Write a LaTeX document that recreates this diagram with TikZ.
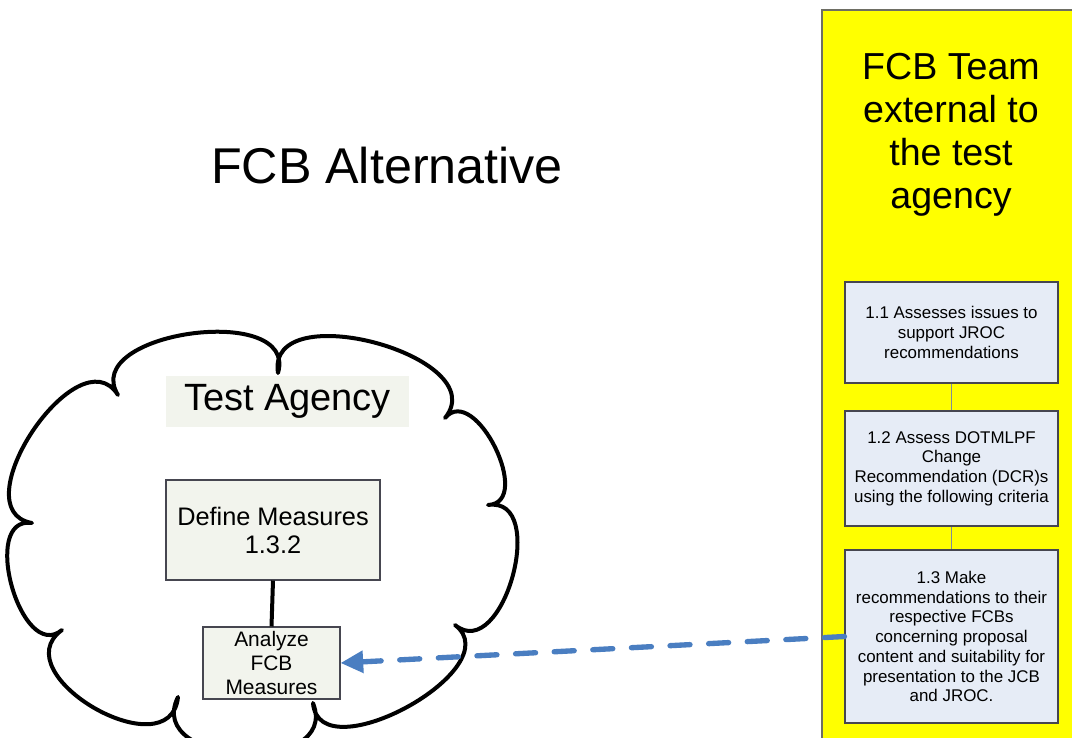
\documentclass[tikz,border=0pt]{standalone}
\usepackage{fontspec}
\setmainfont{Liberation Sans}
\usetikzlibrary{calc,arrows.meta}
\definecolor{panelyellow}{RGB}{255,255,0}
\definecolor{panelborder}{RGB}{110,110,100}
\definecolor{boxfill}{RGB}{230,236,246}
\definecolor{boxborder}{RGB}{70,70,80}
\definecolor{linkgray}{RGB}{128,140,155}
\definecolor{lightfill}{RGB}{242,244,237}
\definecolor{arrowblue}{RGB}{74,126,193}
\def\px{0.75pt}
\begin{document}
\begin{tikzpicture}[x=0.75pt,y=-0.75pt,
  rbox/.style={draw=boxborder, line width=0.8pt, fill=boxfill, align=center, inner sep=0pt,
    minimum width=213*\px, font=\fontsize{12.7}{14.8}\selectfont},
  lbox/.style={draw=boxborder, line width=0.8pt, fill=lightfill, align=center, inner sep=0pt},
  cloudline/.style={draw=black, line width=3pt, line join=round},
  link/.style={draw=linkgray, line width=0.8pt},
  flow/.style={draw=arrowblue, line width=4pt, line cap=round, dash pattern=on 15pt off 14pt,
    -{Triangle[length=17pt,width=16pt,line cap=butt]}}
]
\useasboundingbox (0,0) rectangle (1072,738);
\clip (0,0) rectangle (1072,738);
\fill[white] (0,0) rectangle (1072,738);

% title
\node[font=\fontsize{37.7}{43}\selectfont, anchor=base, inner sep=0pt] (title) at (387,184) {FCB Alternative};

% yellow panel
\path[fill=panelyellow, draw=panelborder, line width=1.2pt] (822,10) rectangle (1085,750);
\node[font=\fontsize{28.2}{32.3}\selectfont, align=center, anchor=north, inner sep=0pt] (head) at (951,53)
  {FCB Team\\external to\\the test\\agency};

\node[rbox, minimum height=101*\px] (b1) at (951.5,332.5) {1.1 Assesses issues to\\support JROC\\recommendations};
\node[rbox, minimum height=115*\px] (b2) at (951.5,468.5) {1.2 Assess DOTMLPF\\Change\\Recommendation (DCR)s\\using the following criteria};
\node[rbox, minimum height=173*\px] (b3) at (951.5,636.5) {1.3 Make\\recommendations to their\\respective FCBs\\concerning proposal\\content and suitability for\\presentation to the JCB\\and JROC.};
\draw[link] (b1) -- (b2);
\draw[link] (b2) -- (b3);

% cloud
\coordinate (N1) at (118,395);
\coordinate (N2) at (278,373);
\coordinate (N3) at (445,418);
\coordinate (N4) at (488,505);
\coordinate (N5) at (455,625);
\coordinate (N6) at (313,703);
\coordinate (N7) at (178,697);
\coordinate (N8) at (62,630);
\coordinate (N9) at (32,523);
\path[cloudline, fill=white]
  (N1) .. controls ($(N1)!0.46!114:(N2)$) and ($(N2)!0.46!-114:(N1)$) .. (N2)
       .. controls ($(N2)!0.46!114:(N3)$) and ($(N3)!0.46!-114:(N2)$) .. (N3)
       .. controls ($(N3)!0.48!114:(N4)$) and ($(N4)!0.48!-114:(N3)$) .. (N4)
       .. controls ($(N4)!0.5!114:(N5)$) and ($(N5)!0.5!-114:(N4)$) .. (N5)
       .. controls ($(N5)!0.44!114:(N6)$) and ($(N6)!0.44!-114:(N5)$) .. (N6)
       .. controls ($(N6)!0.58!114:(N7)$) and ($(N7)!0.58!-114:(N6)$) .. (N7)
       .. controls ($(N7)!0.56!114:(N8)$) and ($(N8)!0.56!-114:(N7)$) .. (N8)
       .. controls ($(N8)!0.48!114:(N9)$) and ($(N9)!0.48!-114:(N8)$) .. (N9)
       .. controls ($(N9)!0.48!114:(N1)$) and ($(N1)!0.48!-114:(N9)$) .. (N1) -- cycle;

\node[fill=lightfill, inner sep=0pt, minimum width=243*\px, minimum height=51*\px,
  font=\fontsize{28.5}{32}\selectfont] (ta) at (287.5,401.5) {Test Agency};

\node[lbox, minimum width=214*\px, minimum height=100*\px, font=\fontsize{19}{21}\selectfont] (define) at (273,530) {Define Measures\\1.3.2};
\node[lbox, minimum width=137*\px, minimum height=72*\px, font=\fontsize{15.7}{18}\selectfont] (analyze) at (271.5,663) {Analyze\\FCB\\Measures};

\draw[line width=3pt] (define.south) -- (analyze.north);

\draw[flow] (b3.west) -- (analyze.east);
\end{tikzpicture}
\end{document}
